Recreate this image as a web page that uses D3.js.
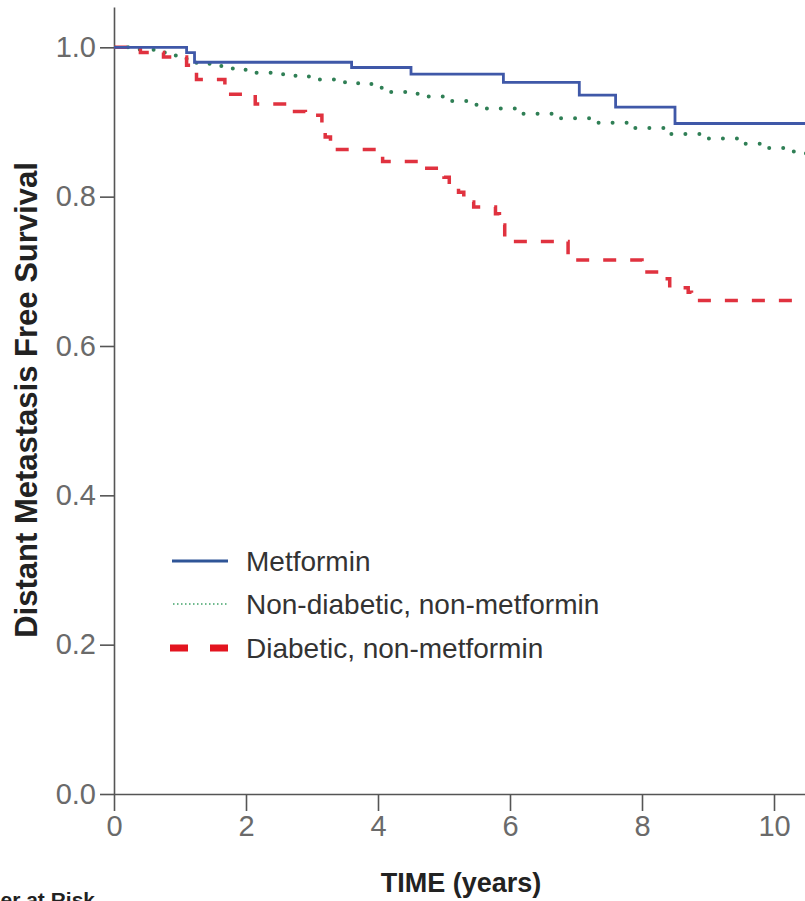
<!DOCTYPE html>
<html>
<head>
<meta charset="utf-8">
<script src="https://cdn.jsdelivr.net/npm/d3@7/dist/d3.min.js"></script>
<style>
  html, body { margin: 0; padding: 0; background: #fff; }
  svg { display: block; }
</style>
</head>
<body>
<svg id="chart" width="805" height="901"></svg>
<script>
// ---- Data ----
const seriesNames = ["Metformin", "Non-diabetic, non-metformin", "Diabetic, non-metformin"];

const metforminTime = [0, 1.1, 1.22, 3.6, 4.5, 5.9, 7.05, 7.6, 8.5, 10.8];
const metforminSurv = [1.0, 0.993, 0.980, 0.973, 0.964, 0.953, 0.936, 0.920, 0.898, 0.898];

const nonDiabTime = [0, 0.3, 0.6, 0.9, 1.1, 1.25, 1.45, 1.8, 2.1, 2.5, 2.75, 3.1, 3.5, 3.9, 4.2, 4.6, 5.05, 5.35, 5.65, 6.2, 6.7, 7.2, 7.8, 8.4, 8.9, 9.5, 9.9, 10.3, 10.8];
const nonDiabSurv = [1.0, 0.997, 0.993, 0.989, 0.983, 0.978, 0.975, 0.970, 0.966, 0.964, 0.961, 0.957, 0.952, 0.946, 0.940, 0.934, 0.928, 0.923, 0.918, 0.911, 0.905, 0.899, 0.892, 0.884, 0.878, 0.871, 0.865, 0.858, 0.852];

const diabTime = [0, 0.4, 0.75, 1.1, 1.25, 1.68, 2.14, 2.67, 2.9, 3.15, 3.2, 3.28, 4.07, 4.65, 5.0, 5.08, 5.22, 5.3, 5.45, 5.78, 5.84, 5.92, 6.88, 8.0, 8.35, 8.42, 8.7, 8.75, 10.8];
const diabSurv = [1.0, 0.993, 0.987, 0.976, 0.957, 0.937, 0.924, 0.914, 0.909, 0.890, 0.880, 0.863, 0.847, 0.838, 0.826, 0.812, 0.806, 0.793, 0.786, 0.777, 0.762, 0.740, 0.715, 0.699, 0.690, 0.678, 0.672, 0.661, 0.661];

const yTickValues = [0.0, 0.2, 0.4, 0.6, 0.8, 1.0];
const xTickValues = [0, 2, 4, 6, 8, 10];
const yTitle = "Distant Metastasis Free Survival";
const xTitle = "TIME (years)";
const riskTitle = "Number at Risk";

// ---- Drawing ----
const svg = d3.select("#chart");
const W = 805, H = 901;

const x = d3.scaleLinear().domain([0, 12]).range([114, 906]);
const y = d3.scaleLinear().domain([0, 1.054]).range([794, 7]);

const axisColor = "#555";
const tickFont = "'Liberation Sans Narrow', 'Arial Narrow', 'Liberation Sans', Arial, sans-serif";

svg.append("defs").append("clipPath").attr("id", "plotclip")
  .append("rect").attr("x", 114).attr("y", 0).attr("width", W - 114).attr("height", 796);

// Y axis
const yAxis = svg.append("g").attr("transform", "translate(114,0)")
  .call(d3.axisLeft(y).tickValues(yTickValues).tickFormat(d3.format(".1f")).tickSize(14).tickSizeOuter(0).tickPadding(4));
yAxis.select(".domain").attr("stroke", axisColor).attr("stroke-width", 1.6);
yAxis.selectAll(".tick line").attr("stroke", axisColor).attr("stroke-width", 1.6);
yAxis.selectAll(".tick text").attr("fill", "#6a6a6a").style("font-family", tickFont).style("font-size", "29px");

// X axis (line continues past the visible edge)
const xAxis = svg.append("g").attr("transform", "translate(0,794)")
  .call(d3.axisBottom(x).tickValues(xTickValues).tickFormat(d3.format("d")).tickSize(17).tickSizeOuter(0).tickPadding(4));
xAxis.select(".domain").attr("stroke", axisColor).attr("stroke-width", 1.6);
xAxis.selectAll(".tick line").attr("stroke", axisColor).attr("stroke-width", 1.6);
xAxis.selectAll(".tick text").attr("fill", "#6a6a6a").style("font-family", tickFont).style("font-size", "29px");

// Curves
const mk = (T, S) => T.map((t, i) => ({ t, s: S[i] }));
const line = d3.line().x(d => x(d.t)).y(d => y(d.s)).curve(d3.curveStepAfter);
const plot = svg.append("g").attr("clip-path", "url(#plotclip)");

plot.append("path").datum(mk(nonDiabTime, nonDiabSurv))
  .attr("d", line).attr("fill", "none")
  .attr("stroke", "#2f7f55").attr("stroke-width", 4)
  .attr("stroke-linecap", "round").attr("stroke-dasharray", "0,14");

plot.append("path").datum(mk(diabTime, diabSurv))
  .attr("d", line).attr("fill", "none")
  .attr("stroke", "#e0323f").attr("stroke-width", 3.5)
  .attr("stroke-dasharray", "13,14");

plot.append("path").datum(mk(metforminTime, metforminSurv))
  .attr("d", line).attr("fill", "none")
  .attr("stroke", "#3f58a8").attr("stroke-width", 2.8);

// Legend
const legend = svg.append("g").attr("class", "legend");
const legRows = [
  { name: seriesNames[0], y: 561 },
  { name: seriesNames[1], y: 604 },
  { name: seriesNames[2], y: 648 }
];
legend.append("line").attr("x1", 172).attr("x2", 228).attr("y1", legRows[0].y).attr("y2", legRows[0].y)
  .attr("stroke", "#2f5597").attr("stroke-width", 3);
legend.append("line").attr("x1", 173).attr("x2", 228).attr("y1", legRows[1].y).attr("y2", legRows[1].y)
  .attr("stroke", "#6fb98d").attr("stroke-width", 2).attr("stroke-dasharray", "1.5,2.5");
legend.append("line").attr("x1", 170).attr("x2", 228).attr("y1", legRows[2].y).attr("y2", legRows[2].y)
  .attr("stroke", "#e3141f").attr("stroke-width", 7).attr("stroke-dasharray", "18,22");
legend.selectAll("text.leg").data(legRows).enter().append("text")
  .attr("class", "leg")
  .attr("x", 246).attr("y", d => d.y).attr("dy", "0.36em")
  .attr("fill", "#333")
  .style("font-family", "'Liberation Sans', Arial, sans-serif")
  .style("font-size", "28px")
  .text(d => d.name);

// Titles
svg.append("text")
  .attr("transform", "translate(37,400) rotate(-90)")
  .attr("text-anchor", "middle")
  .attr("fill", "#222")
  .style("font-family", "'Liberation Sans', Arial, sans-serif")
  .style("font-weight", "bold").style("font-size", "31px")
  .text(yTitle);

svg.append("text")
  .attr("x", 461).attr("y", 892)
  .attr("text-anchor", "middle")
  .attr("fill", "#222")
  .style("font-family", "'Liberation Sans', Arial, sans-serif")
  .style("font-weight", "bold").style("font-size", "27px")
  .text(xTitle);

svg.append("text")
  .attr("x", 95).attr("y", 907)
  .attr("text-anchor", "end")
  .attr("fill", "#222")
  .style("font-family", "'Liberation Sans', Arial, sans-serif")
  .style("font-weight", "bold").style("font-size", "21px")
  .text(riskTitle);
</script>
</body>
</html>
